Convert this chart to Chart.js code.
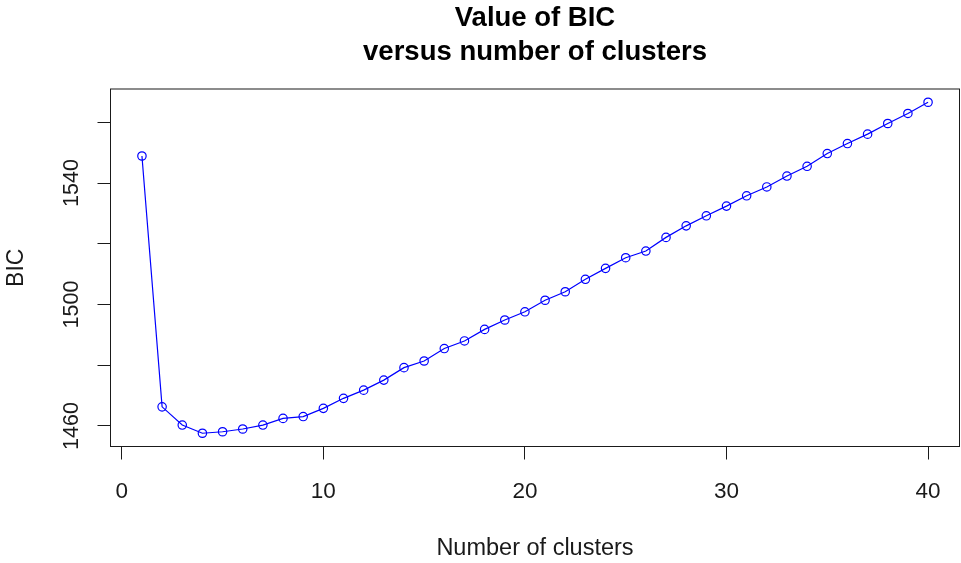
<!DOCTYPE html>
<html>
<head>
<meta charset="utf-8">
<script src="https://cdn.jsdelivr.net/npm/chart.js@4.4.1/dist/chart.umd.min.js"></script>
<style>
  html, body { margin: 0; padding: 0; background: #fff; }
  #bicChart { display: block; }
</style>
</head>
<body>
<canvas id="bicChart" width="961" height="563"></canvas>
<script>
// ===============================
// DATA
// ===============================
const clusters = [1, 2, 3, 4, 5, 6, 7, 8, 9, 10,
    11, 12, 13, 14, 15, 16, 17, 18, 19, 20,
    21, 22, 23, 24, 25, 26, 27, 28, 29, 30,
    31, 32, 33, 34, 35, 36, 37, 38, 39, 40];
const bic = [1548.9, 1466.3, 1460.3, 1457.6, 1458.1, 1459.0, 1460.3, 1462.5, 1463.1, 1465.8,
    1469.1, 1471.8, 1475.1, 1479.2, 1481.4, 1485.5, 1488.0, 1491.8, 1494.9, 1497.6,
    1501.4, 1504.2, 1508.3, 1511.9, 1515.4, 1517.6, 1522.1, 1525.9, 1529.2, 1532.4,
    1535.8, 1538.7, 1542.3, 1545.5, 1549.7, 1553.0, 1556.1, 1559.6, 1562.9, 1566.6];
const xTicks = [0, 10, 20, 30, 40];
const yTicks = [1460, 1480, 1500, 1520, 1540, 1560];
const yTickLabels = [1460, 1500, 1540];   // the rest get a tick mark only
const titleLines = ['Value of BIC', 'versus number of clusters'];

// ===============================
// CONFIG
// ===============================
const FONT = "'Liberation Sans', Arial, sans-serif";
const INK = '#1a1a1a';
const BLUE = '#0000ff';

// axis range padded 4% on each side
const pad4 = (arr) => {
    const lo = Math.min(...arr), hi = Math.max(...arr);
    const d = (hi - lo) * 0.04;
    return { min: lo - d, max: hi + d };
};
const xRange = pad4(clusters);
const yRange = pad4(bic);

// box around the plot region plus the two-line heading
const framePlugin = {
    id: 'frame',
    afterDraw(chart) {
        const { ctx, chartArea: a } = chart;
        ctx.save();
        ctx.strokeStyle = INK;
        ctx.lineWidth = 1;
        ctx.strokeRect(a.left, a.top, a.right - a.left, a.bottom - a.top);

        const cx = (a.left + a.right) / 2;
        ctx.fillStyle = '#000';
        ctx.font = 'bold 27.5px ' + FONT;
        ctx.textAlign = 'center';
        ctx.textBaseline = 'alphabetic';
        ctx.fillText(titleLines[0], cx, 26);
        ctx.fillText(titleLines[1], cx, 59.5);
        ctx.restore();
    }
};

// keep the plot box exactly where the axis sizes put it
const noEdgePadding = (s) => {
    s.paddingLeft = 0; s.paddingRight = 0;
    s.paddingTop = 0; s.paddingBottom = 0;
};

// ===============================
// INIT
// ===============================
function initChart() {
    const ctx = document.getElementById('bicChart').getContext('2d');
    return new Chart(ctx, {
        type: 'line',
        data: {
            datasets: [{
                label: 'BIC',
                data: clusters.map((c, i) => ({ x: c, y: bic[i] })),
                borderColor: BLUE,
                borderWidth: 1.2,
                tension: 0,
                pointStyle: 'circle',
                pointRadius: 4.2,
                pointBorderWidth: 1.2,
                pointBorderColor: BLUE,
                pointBackgroundColor: 'rgba(0,0,0,0)',
                fill: false
            }]
        },
        options: {
            responsive: false,
            animation: false,
            devicePixelRatio: 1,
            events: [],
            layout: { autoPadding: false, padding: { top: 89, right: 1.5, bottom: 0, left: 0 } },
            plugins: {
                legend: { display: false },
                title: { display: false },
                tooltip: { enabled: false }
            },
            scales: {
                x: {
                    type: 'linear',
                    min: xRange.min,
                    max: xRange.max,
                    afterBuildTicks: (s) => { s.ticks = xTicks.map(v => ({ value: v })); },
                    afterFit: (s) => { s.height = 116.5; noEdgePadding(s); },
                    border: { display: false },
                    grid: { drawOnChartArea: false, drawTicks: true, tickLength: 13, color: INK, lineWidth: 1 },
                    ticks: {
                        autoSkip: false,
                        maxRotation: 0,
                        padding: 19,
                        color: INK,
                        font: { family: FONT, size: 22.5 },
                        callback: (v) => String(v)
                    },
                    title: {
                        display: true,
                        text: 'Number of clusters',
                        color: INK,
                        font: { family: FONT, size: 23.5 },
                        padding: { top: 0, bottom: 0 }
                    }
                },
                y: {
                    type: 'linear',
                    min: yRange.min,
                    max: yRange.max,
                    afterBuildTicks: (s) => { s.ticks = yTicks.map(v => ({ value: v })); },
                    afterFit: (s) => { s.width = 110.5; noEdgePadding(s); },
                    border: { display: false },
                    grid: { drawOnChartArea: false, drawTicks: true, tickLength: 13, color: INK, lineWidth: 1 },
                    ticks: {
                        autoSkip: false,
                        minRotation: 90,
                        maxRotation: 90,
                        crossAlign: 'center',
                        padding: 2,
                        color: INK,
                        font: { family: FONT, size: 21.5 },
                        callback: (v) => yTickLabels.includes(v) ? String(v) : ''
                    },
                    title: {
                        display: true,
                        text: 'BIC',
                        color: INK,
                        font: { family: FONT, size: 23 },
                        padding: { top: 3, bottom: 0 }
                    }
                }
            }
        },
        plugins: [framePlugin]
    });
}

initChart();
</script>
</body>
</html>
